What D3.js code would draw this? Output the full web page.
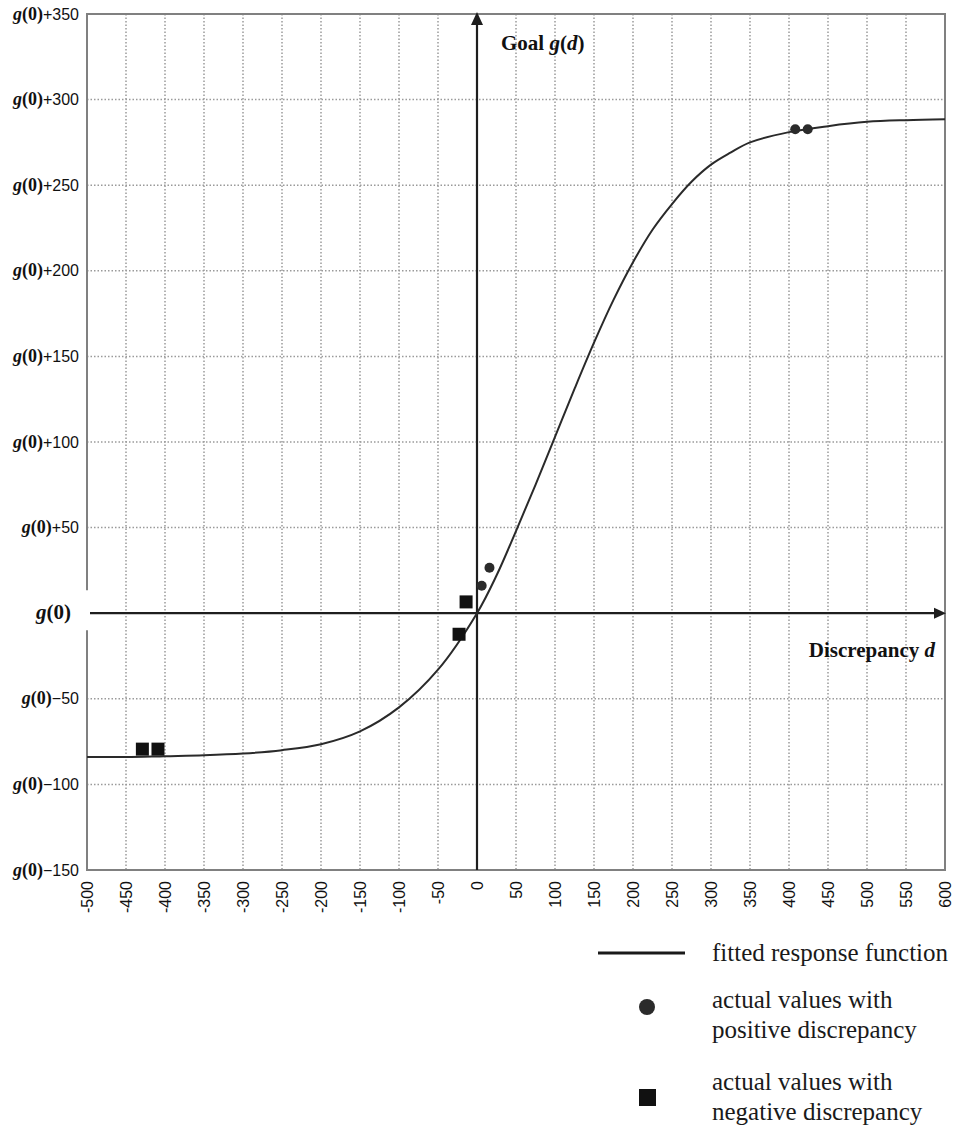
<!DOCTYPE html>
<html>
<head>
<meta charset="utf-8">
<script src="https://d3js.org/d3.v7.min.js"></script>
<style>
  body { margin: 0; background: #fff; }
  svg { display: block; }
</style>
</head>
<body>
<svg id="svg" width="955" height="1127"></svg>
<script>
// ---- data ----
var xTicks = [-500,-450,-400,-350,-300,-250,-200,-150,-100,-50,0,50,100,150,200,250,300,350,400,450,500,550,600];
var yTicks = [-150,-100,-50,0,50,100,150,200,250,300,350];

// fitted response function
var curveD = [-500,-450,-400,-350,-300,-250,-200,-150,-100,-50,0,25,50,75,100,125,150,175,200,225,250,275,300,325,350,400,450,500,550,600];
var curveG = [-84,-84,-83.5,-83,-82,-80,-76.5,-69,-55,-33,0,22,48,75,103,131,158,183,205,224,239,252,262,269,275,281,284.5,287,288,288.5];

// actual values
var posD = [6, 16, 408, 424];
var posG = [16, 26.5, 282.7, 282.7];
var negD = [-14, -23, -429, -409];
var negG = [6.6, -12.3, -79.4, -79.4];

var legendLabels = [["fitted response function"], ["actual values with", "positive discrepancy"], ["actual values with", "negative discrepancy"]];

var svg = d3.select("svg");
var pL = 87, pR = 945, pT = 14, pB = 870;

var x = d3.scaleLinear().domain([-500, 600]).range([pL, pR]);
var y = d3.scaleLinear().domain([-150, 350]).range([pB, pT]);

var gridColor = "#9a9a9a";
var axisColor = "#1e1e1e";

// grid
svg.append("g").selectAll("line")
  .data(xTicks.filter(function(d){ return d != 0 && d != -500 && d != 600; }))
  .enter().append("line")
  .attr("x1", function(d){ return x(d); }).attr("x2", function(d){ return x(d); })
  .attr("y1", pT).attr("y2", pB)
  .attr("stroke", gridColor).attr("stroke-width", 1.5).attr("stroke-dasharray", "1.5,2");

svg.append("g").selectAll("line")
  .data(yTicks.filter(function(d){ return d != 0 && d != -150 && d != 350; }))
  .enter().append("line")
  .attr("y1", function(d){ return y(d); }).attr("y2", function(d){ return y(d); })
  .attr("x1", pL).attr("x2", pR)
  .attr("stroke", gridColor).attr("stroke-width", 1.5).attr("stroke-dasharray", "1.5,2");

// frame (left side broken where the g(0) label sits)
var frame = svg.append("g").attr("stroke", "#808080").attr("stroke-width", 2).attr("fill", "none");
frame.append("path").attr("d", "M" + pL + "," + (y(0) - 23) + "V" + pT + "H" + pR + "V" + pB + "H" + pL + "V" + (y(0) + 17));

// axes
svg.append("line").attr("x1", pL + 3).attr("x2", pR - 8).attr("y1", y(0)).attr("y2", y(0))
  .attr("stroke", axisColor).attr("stroke-width", 2.2);
svg.append("path").attr("d", "M" + (pR + 1) + "," + y(0) + "l-12,-5.5v11z").attr("fill", axisColor);
svg.append("line").attr("x1", x(0)).attr("x2", x(0)).attr("y1", pB).attr("y2", pT + 8)
  .attr("stroke", axisColor).attr("stroke-width", 2.2);
svg.append("path").attr("d", "M" + x(0) + "," + (pT - 2) + "l-6,13h12z").attr("fill", axisColor);

// y labels
var yl = svg.append("g").attr("fill", "#111");
yTicks.forEach(function(v){
  var fs = v == 0 ? 21 : 18;
  var t = yl.append("text").attr("x", v == 0 ? 71 : 79).attr("y", y(v)).attr("dy", "0.35em")
    .attr("text-anchor", "end");
  t.append("tspan").attr("font-family", "Liberation Serif").attr("font-weight", "bold")
    .attr("font-style", "italic").attr("font-size", fs).text("g");
  t.append("tspan").attr("font-family", "Liberation Serif").attr("font-weight", "bold")
    .attr("font-size", fs).text("(0)");
  if (v != 0) {
    t.append("tspan").attr("font-family", "Liberation Sans").attr("font-size", 16)
      .text((v > 0 ? "+" : "\u2212") + Math.abs(v));
  }
});

// x labels (rotated)
svg.append("g").selectAll("text").data(xTicks).enter().append("text")
  .attr("transform", function(d){ return "translate(" + x(d) + ",881) rotate(-90)"; })
  .attr("text-anchor", "end").attr("dy", "0.36em")
  .attr("font-family", "Liberation Sans").attr("font-size", 16).attr("fill", "#111")
  .text(function(d){ return d; });

// axis titles
var t1 = svg.append("text").attr("x", 501).attr("y", 50).attr("font-family", "Liberation Serif")
  .attr("font-weight", "bold").attr("font-size", 21).attr("fill", "#111");
t1.append("tspan").text("Goal ");
t1.append("tspan").attr("font-style", "italic").text("g");
t1.append("tspan").text("(");
t1.append("tspan").attr("font-style", "italic").text("d");
t1.append("tspan").text(")");

var t2 = svg.append("text").attr("x", 935).attr("y", 657).attr("text-anchor", "end")
  .attr("font-family", "Liberation Serif").attr("font-weight", "bold").attr("font-size", 21).attr("fill", "#111");
t2.append("tspan").text("Discrepancy ");
t2.append("tspan").attr("font-style", "italic").text("d");

// fitted curve
var curvePts = curveD.map(function(d, i){ return [d, curveG[i]]; });
svg.append("path").datum(curvePts)
  .attr("d", d3.line().x(function(p){ return x(p[0]); }).y(function(p){ return y(p[1]); }).curve(d3.curveCatmullRom))
  .attr("fill", "none").attr("stroke", "#2a2a2a").attr("stroke-width", 2);

// points
svg.append("g").selectAll("circle").data(posD).enter().append("circle")
  .attr("cx", function(d){ return x(d); }).attr("cy", function(d, i){ return y(posG[i]); })
  .attr("r", 5).attr("fill", "#2b2b2b");
svg.append("g").selectAll("rect").data(negD).enter().append("rect")
  .attr("x", function(d){ return x(d) - 6.5; }).attr("y", function(d, i){ return y(negG[i]) - 6.5; })
  .attr("width", 13).attr("height", 13).attr("fill", "#111");

// legend
var lg = svg.append("g").attr("font-family", "Liberation Serif").attr("font-size", 25).attr("fill", "#1a1a1a");
lg.append("line").attr("x1", 598).attr("x2", 685).attr("y1", 953).attr("y2", 953)
  .attr("stroke", "#1a1a1a").attr("stroke-width", 3);
lg.append("circle").attr("cx", 647).attr("cy", 1007).attr("r", 8).attr("fill", "#2b2b2b");
lg.append("rect").attr("x", 639).attr("y", 1089).attr("width", 17).attr("height", 17).attr("fill", "#111");
var rowY = [953, 1015, 1097];
legendLabels.forEach(function(lines, i){
  var n = lines.length;
  lines.forEach(function(s, j){
    lg.append("text").attr("x", 712).attr("y", rowY[i] + (j - (n - 1) / 2) * 30).attr("dy", "0.32em").text(s);
  });
});
</script>
</body>
</html>
